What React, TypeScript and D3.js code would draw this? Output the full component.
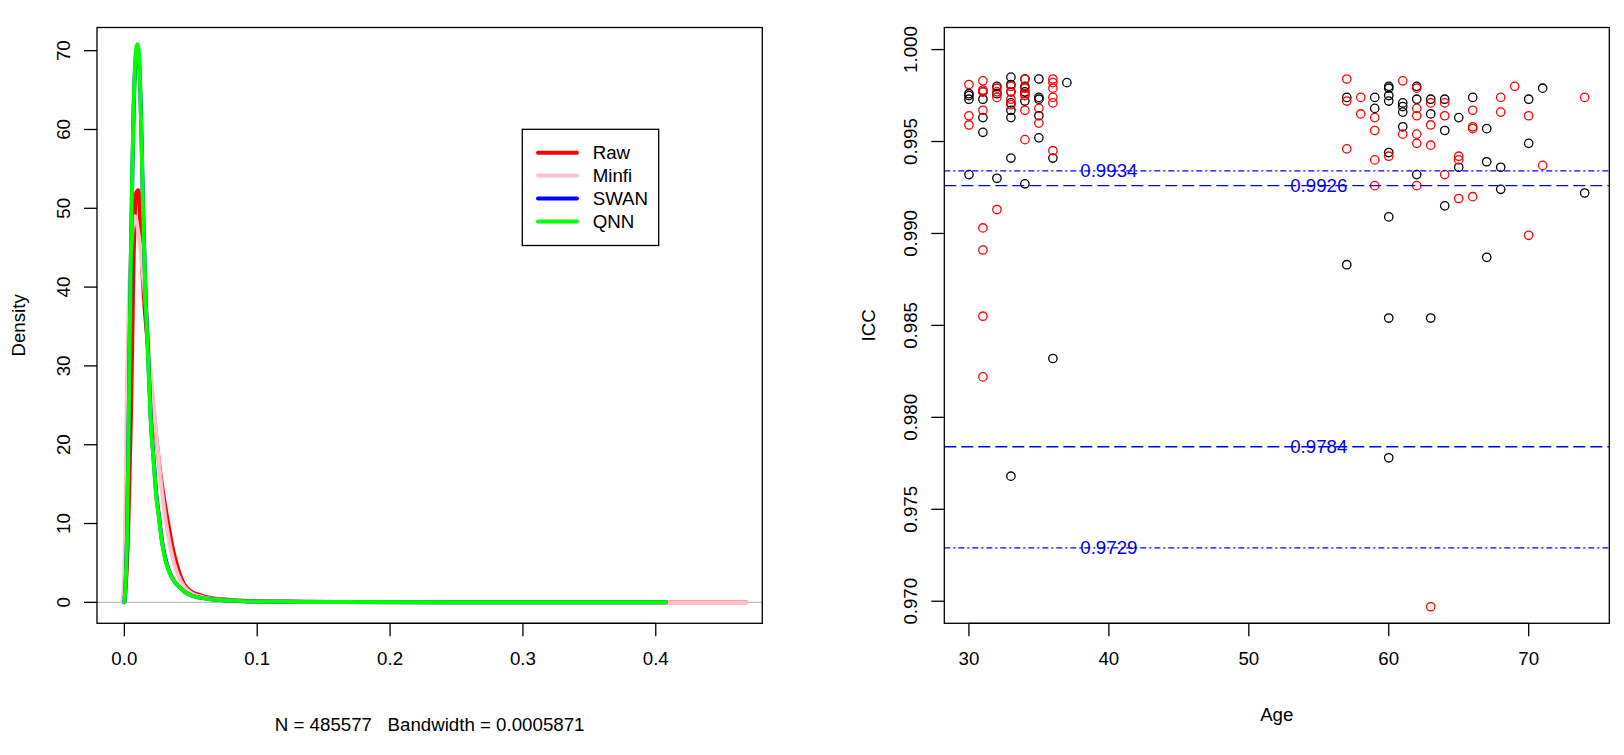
import * as d3 from 'd3'

// density curves (beta value vs density)
const rawX = [0, 0.002, 0.003, 0.004, 0.005, 0.006, 0.007, 0.008, 0.009, 0.0105, 0.012, 0.013, 0.015, 0.018, 0.021, 0.024, 0.027, 0.03, 0.033, 0.036, 0.04, 0.045, 0.05, 0.057, 0.065, 0.075, 0.09, 0.12, 0.16, 0.25, 0.35, 0.468]
const rawY = [0, 5, 10, 17, 24, 34, 44, 50, 52, 52.3, 48, 44, 38, 32, 26, 21, 16.5, 13, 10, 7.2, 4.5, 2.3, 1.4, 0.9, 0.55, 0.35, 0.2, 0.1, 0.05, 0.015, 0.005, 0]

const minfiX = [-0.0015, 0, 0.001, 0.002, 0.003, 0.004, 0.005, 0.006, 0.007, 0.008, 0.009, 0.01, 0.012, 0.014, 0.016, 0.019, 0.022, 0.025, 0.028, 0.031, 0.034, 0.037, 0.04, 0.045, 0.05, 0.057, 0.065, 0.075, 0.09, 0.12, 0.16, 0.25, 0.35, 0.4687]
const minfiY = [0, 4, 14, 28, 36, 41, 44.5, 47, 48.5, 49, 48.5, 47.5, 45, 41.5, 38, 31, 25, 19.5, 14.5, 10.5, 7.5, 5.2, 3.6, 2, 1.2, 0.75, 0.45, 0.3, 0.17, 0.08, 0.04, 0.012, 0.005, 0]

const swanX = [0, 0.001, 0.002, 0.003, 0.004, 0.005, 0.006, 0.007, 0.008, 0.009, 0.0098, 0.0105, 0.0115, 0.013, 0.014, 0.015, 0.016, 0.018, 0.02, 0.022, 0.024, 0.026, 0.028, 0.03, 0.033, 0.036, 0.04, 0.045, 0.05, 0.057, 0.065, 0.075, 0.09, 0.12, 0.16, 0.25, 0.4077]
const swanY = [0, 2.6, 8.2, 19, 33, 44.5, 54.5, 62.5, 67.5, 69.8, 70.2, 69.8, 67.2, 58.5, 50.5, 44.5, 39, 31, 23, 18.3, 13.8, 11, 8.2, 6.2, 4.3, 3.1, 2.2, 1.4, 0.9, 0.6, 0.4, 0.25, 0.15, 0.07, 0.03, 0.01, 0]

const qnnX = [0, 0.001, 0.002, 0.003, 0.004, 0.005, 0.006, 0.007, 0.008, 0.009, 0.0098, 0.0105, 0.0115, 0.013, 0.014, 0.015, 0.016, 0.018, 0.02, 0.022, 0.024, 0.026, 0.028, 0.03, 0.033, 0.036, 0.04, 0.045, 0.05, 0.057, 0.065, 0.075, 0.09, 0.12, 0.16, 0.25, 0.4077]
const qnnY = [0, 2.5, 8, 19, 33, 45, 55, 63, 68, 70.3, 70.8, 70.3, 67.5, 58.5, 50, 44, 38.5, 30.5, 22.5, 18, 13.5, 10.8, 8, 6, 4.2, 3.1, 2.2, 1.4, 0.9, 0.6, 0.4, 0.25, 0.15, 0.07, 0.03, 0.01, 0]

const seriesNames = ['Raw', 'Minfi', 'SWAN', 'QNN']
const densityTicks = [0, 10, 20, 30, 40, 50, 60, 70]
const betaTicks = [0, 0.1, 0.2, 0.3, 0.4]
const densityXLabel = 'N = 485577   Bandwidth = 0.0005871'

// ICC by age
const blackAge = [30, 30, 30, 30, 31, 31, 31, 31, 32, 32, 32, 33, 33, 33, 33, 33, 33, 33, 33, 34, 34, 34, 34, 34, 35, 35, 35, 35, 35, 36, 36, 37,
  57, 57, 59, 59, 60, 60, 60, 60, 60, 60, 60, 60, 61, 61, 61, 61, 62, 62, 62, 63, 63, 63, 64, 64, 64, 65, 65, 66, 67, 67, 67, 68, 68, 70, 70, 71, 74]
const blackIcc = [0.9976, 0.9975, 0.9973, 0.9932, 0.9977, 0.9973, 0.9963, 0.9955, 0.998, 0.9976, 0.993, 0.9985, 0.9981, 0.9977, 0.9971, 0.9967, 0.9963, 0.9941, 0.9768, 0.9984, 0.998, 0.9977, 0.9972, 0.9927, 0.9984, 0.9974, 0.9973, 0.9964, 0.9952, 0.9941, 0.9832, 0.9982,
  0.9974, 0.9883, 0.9974, 0.9968, 0.998, 0.9979, 0.9975, 0.9972, 0.9944, 0.9909, 0.9854, 0.9778, 0.9971, 0.9969, 0.9966, 0.9958, 0.998, 0.9973, 0.9932, 0.9973, 0.9965, 0.9854, 0.9973, 0.9956, 0.9915, 0.9963, 0.9936, 0.9974, 0.9957, 0.9939, 0.9887, 0.9936, 0.9924, 0.9973, 0.9949, 0.9979, 0.9922]

const redAge = [30, 30, 30, 31, 31, 31, 31, 31, 31, 31, 31, 32, 32, 32, 32, 33, 33, 33, 33, 34, 34, 34, 34, 34, 34, 35, 35, 36, 36, 36, 36, 36, 36,
  57, 57, 57, 58, 58, 59, 59, 59, 59, 60, 61, 61, 62, 62, 62, 62, 62, 62, 63, 63, 63, 63, 64, 64, 64, 65, 65, 65, 66, 66, 66, 66, 68, 68, 69, 70, 70, 71, 74]
const redIcc = [0.9981, 0.9964, 0.9959, 0.9983, 0.9978, 0.9977, 0.9967, 0.9903, 0.9891, 0.9855, 0.9822, 0.9979, 0.9977, 0.9974, 0.9913, 0.998, 0.9977, 0.9973, 0.997, 0.9984, 0.9979, 0.9976, 0.9975, 0.9967, 0.9951, 0.9968, 0.996, 0.9984, 0.9982, 0.9979, 0.9974, 0.9971, 0.9945,
  0.9984, 0.9972, 0.9946, 0.9974, 0.9965, 0.9963, 0.9956, 0.994, 0.9926, 0.9942, 0.9983, 0.9954, 0.9979, 0.9968, 0.9964, 0.9954, 0.9949, 0.9926, 0.9971, 0.9959, 0.9948, 0.9697, 0.9971, 0.9964, 0.9932, 0.9942, 0.994, 0.9919, 0.9967, 0.9958, 0.9957, 0.992, 0.9974, 0.9966, 0.998, 0.9964, 0.9899, 0.9937, 0.9974]

const cutoffs = [0.9934, 0.9926, 0.9784, 0.9729]
const ageTicks = [30, 40, 50, 60, 70]
const iccTicks = [0.97, 0.975, 0.98, 0.985, 0.99, 0.995, 1]

const FONT = '"Liberation Sans", Arial, sans-serif'
const FS = 18.7
const TOP = 27.5
const BOTTOM = 623.3
const TICK = 13

function DensityPlot() {
  const left = 97
  const right = 762.3
  const x = d3.scaleLinear([-0.0206, 0.4802], [left, right])
  const y = d3.scaleLinear([-2.66, 72.94], [BOTTOM, TOP])
  const colors = ['#FF0000', '#FFC0CB', '#0000FF', '#00FF00']
  const xs = [rawX, minfiX, swanX, qnnX]
  const ys = [rawY, minfiY, swanY, qnnY]
  const line = d3
    .line<[number, number]>()
    .x((d) => x(d[0]))
    .y((d) => y(d[1]))
    .curve(d3.curveMonotoneX)
  const fmt = d3.format('.1f')
  const cx = (left + right) / 2
  const cy = (TOP + BOTTOM) / 2
  return (
    <g>
      <clipPath id="clipL">
        <rect x={left} y={TOP} width={right - left} height={BOTTOM - TOP} />
      </clipPath>
      <line x1={left} x2={right} y1={y(0)} y2={y(0)} stroke="#BEBEBE" strokeWidth={1.3} />
      <g clipPath="url(#clipL)" fill="none" strokeWidth={4} strokeLinejoin="round" strokeLinecap="round">
        {xs.map((arr, i) => (
          <path
            key={i}
            stroke={colors[i]}
            d={line(arr.map((v, j) => [v, ys[i][j]] as [number, number])) ?? undefined}
          />
        ))}
      </g>
      <rect x={left} y={TOP} width={right - left} height={BOTTOM - TOP} fill="none" stroke="#000" strokeWidth={1.3} />
      {betaTicks.map((t) => (
        <g key={t}>
          <line x1={x(t)} x2={x(t)} y1={BOTTOM} y2={BOTTOM + TICK} stroke="#000" strokeWidth={1.3} />
          <text x={x(t)} y={658} textAnchor="middle" dominantBaseline="central">
            {fmt(t)}
          </text>
        </g>
      ))}
      <line x1={x(0)} x2={x(0.4)} y1={BOTTOM} y2={BOTTOM} stroke="#000" strokeWidth={1.3} />
      {densityTicks.map((t) => (
        <g key={t}>
          <line x1={left - TICK} x2={left} y1={y(t)} y2={y(t)} stroke="#000" strokeWidth={1.3} />
          <text
            transform={`translate(${left - 33.6},${y(t)}) rotate(-90)`}
            textAnchor="middle"
            dominantBaseline="central"
          >
            {t}
          </text>
        </g>
      ))}
      <text x={cx} y={724} textAnchor="middle" dominantBaseline="central" style={{ whiteSpace: 'pre' }}>
        {densityXLabel}
      </text>
      <text transform={`translate(18,${cy}) rotate(-90)`} textAnchor="middle" dominantBaseline="central">
        Density
      </text>
      {/* legend */}
      <rect x={522.3} y={129.3} width={136.4} height={116.2} fill="#fff" stroke="#000" strokeWidth={1.3} />
      {seriesNames.map((name, i) => {
        const ly = 152.7 + i * 22.9
        return (
          <g key={name}>
            <line x1={538} x2={577} y1={ly} y2={ly} stroke={colors[i]} strokeWidth={4} strokeLinecap="round" />
            <text x={592.7} y={ly} dominantBaseline="central">
              {name}
            </text>
          </g>
        )
      })}
    </g>
  )
}

function IccPlot() {
  const left = 944.3
  const right = 1609.3
  const x = d3.scaleLinear([28.24, 75.76], [left, right])
  const y = d3.scaleLinear([0.9688, 1.0012], [BOTTOM, TOP])
  const fmt = d3.format('.3f')
  const labelAge = [40, 55, 55, 40]
  const dash = ['6 3 2 3', '12 5', '12 5', '6 3 2 3']
  const cx = (left + right) / 2
  const cy = (TOP + BOTTOM) / 2
  return (
    <g>
      <clipPath id="clipR">
        <rect x={left} y={TOP} width={right - left} height={BOTTOM - TOP} />
      </clipPath>
      <g clipPath="url(#clipR)" fill="none" strokeWidth={1.3}>
        {blackAge.map((a, i) => (
          <circle key={'b' + i} cx={x(a)} cy={y(blackIcc[i])} r={4.2} stroke="#000" />
        ))}
        {redAge.map((a, i) => (
          <circle key={'r' + i} cx={x(a)} cy={y(redIcc[i])} r={4.2} stroke="#FF0000" />
        ))}
        {cutoffs.map((c, i) => (
          <g key={c}>
            <line x1={left} x2={right} y1={y(c)} y2={y(c)} stroke="#0000FF" strokeWidth={1.3} strokeDasharray={dash[i]} />
            <text x={x(labelAge[i])} y={y(c)} textAnchor="middle" dominantBaseline="central" fill="#0000FF" stroke="none">
              {c.toFixed(4)}
            </text>
          </g>
        ))}
      </g>
      <rect x={left} y={TOP} width={right - left} height={BOTTOM - TOP} fill="none" stroke="#000" strokeWidth={1.3} />
      <line x1={x(30)} x2={x(70)} y1={BOTTOM} y2={BOTTOM} stroke="#000" strokeWidth={1.3} />
      {ageTicks.map((t) => (
        <g key={t}>
          <line x1={x(t)} x2={x(t)} y1={BOTTOM} y2={BOTTOM + TICK} stroke="#000" strokeWidth={1.3} />
          <text x={x(t)} y={658} textAnchor="middle" dominantBaseline="central">
            {t}
          </text>
        </g>
      ))}
      {iccTicks.map((t) => (
        <g key={t}>
          <line x1={left - TICK} x2={left} y1={y(t)} y2={y(t)} stroke="#000" strokeWidth={1.3} />
          <text
            transform={`translate(${left - 33.6},${y(t)}) rotate(-90)`}
            textAnchor="middle"
            dominantBaseline="central"
          >
            {fmt(t)}
          </text>
        </g>
      ))}
      <text x={cx} y={714} textAnchor="middle" dominantBaseline="central">
        Age
      </text>
      <text transform={`translate(868,${cy}) rotate(-90)`} textAnchor="middle" dominantBaseline="central">
        ICC
      </text>
    </g>
  )
}

export default function App() {
  return (
    <svg
      width={1624}
      height={755}
      style={{ position: 'absolute', left: 0, top: 0, background: '#fff' }}
      fontFamily={FONT}
      fontSize={FS}
    >
      <rect width={1624} height={755} fill="#fff" />
      <DensityPlot />
      <IccPlot />
    </svg>
  )
}
